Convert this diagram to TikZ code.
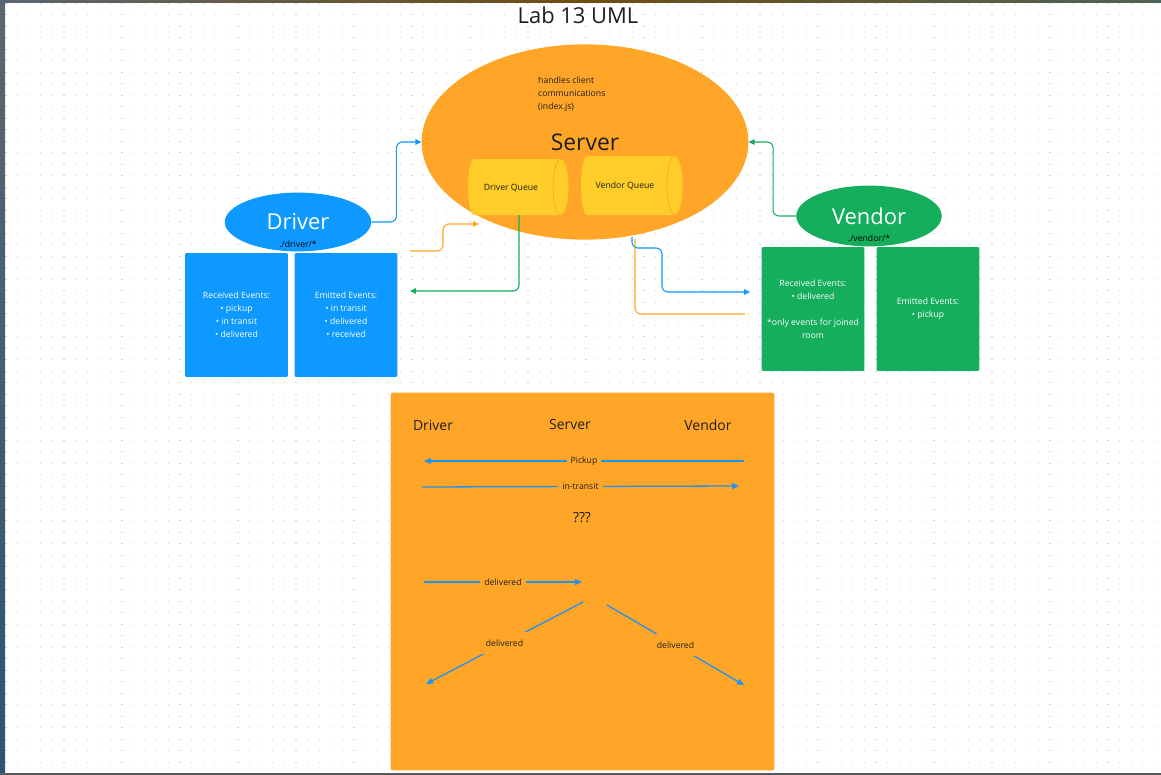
\documentclass[tikz,border=0pt]{standalone}
\usepackage{fontspec}
\setmainfont{Open Sans}
\usetikzlibrary{arrows.meta,shapes.geometric}

\definecolor{figorange}{HTML}{FFA629}
\definecolor{figyellow}{HTML}{FFCD29}
\definecolor{figblue}{HTML}{0D99FF}
\definecolor{figgreen}{HTML}{14AE5C}
\definecolor{figink}{HTML}{1E1E1E}
\definecolor{figdot}{HTML}{D2D2D2}
\definecolor{flowblue}{HTML}{1E93F0}
\definecolor{edgetop}{HTML}{5C6670}
\definecolor{edgebot}{HTML}{2B5473}
\definecolor{edgebrown}{HTML}{6E4E12}
\definecolor{edgegreen}{HTML}{4E6458}

\begin{document}
\begin{tikzpicture}[x=1bp,y=-1bp,
  small/.style={font=\fontsize{8.7}{13}\selectfont},
  actor/.style={ellipse,inner sep=0,text=white,font=\fontsize{22}{26}\selectfont},
  evbox/.style={rectangle,rounded corners=1,inner sep=0,minimum width=103,minimum height=124,
    text=white,align=center,small},
  link/.style={line width=1.1,rounded corners=6,-{Triangle[length=6,width=5.5]}},
  flowarrow/.style={flowblue,line width=1.3,-{Triangle[length=7,width=6]}},
  flowlabel/.style={fill=figorange,inner xsep=4,inner ysep=1,text=figink,small},
  lifeline/.style={text=figink,font=\fontsize{14}{17}\selectfont}]
\useasboundingbox (0,0) rectangle (1161,775);
% canvas and dot grid
\fill[white] (0,0) rectangle (1161,775);
\foreach \row [evaluate=\row as \gy using 3.3+11.5*\row] in {0,...,67}
  \draw[figdot,line width=1.2,dash pattern=on 1.2bp off 10.4bp] (5.4,\gy) -- (1161,\gy);
% window edges
\shade[top color=edgetop,bottom color=edgebot] (0,0) rectangle (5,775);
\shade[left color=edgetop,right color=edgegreen,middle color=edgebrown] (0,0) rectangle (1161,3);
\fill[gray!70!black] (0,773) rectangle (1161,775);
% title
\node[text=figink,font=\fontsize{22}{26}\selectfont] (title) at (578,15) {Lab 13 UML};

% server with its queues
\node[ellipse,fill=figorange,inner sep=0,minimum width=328,minimum height=196,
  text=figink,font=\fontsize{23}{27}\selectfont] (server) at (585,142) {Server};
\node[anchor=north west,inner sep=0,align=left,text=figink,small] (srvnote) at (538,76.5)
  {handles client\\communications\\(index.js)};
\fill[figyellow] (474,159) -- (561,159) arc[start angle=-90,end angle=90,x radius=8,y radius=28]
  -- (474,215) arc[start angle=90,end angle=270,x radius=6,y radius=28] -- cycle;
\draw[figorange,line width=0.8] (561,187) ellipse[x radius=8,y radius=28];
\node[text=figink,small] (dq) at (511,188) {Driver Queue};
\fill[figyellow] (587,156) -- (675,156) arc[start angle=-90,end angle=90,x radius=8,y radius=29.5]
  -- (587,215) arc[start angle=90,end angle=270,x radius=6,y radius=29.5] -- cycle;
\draw[figorange,line width=0.8] (675,185.5) ellipse[x radius=8,y radius=29.5];
\node[text=figink,small] (vq) at (625,186) {Vendor Queue};

% driver client
\node[actor,fill=figblue,minimum width=147,minimum height=59] (driver) at (298,222) {Driver};
\node[small,text=black] (drvpath) at (298,244) {./driver/*};
\node[evbox,fill=figblue] (drvrecv) at (236.5,315)
  {Received Events:\\\textbullet\ pickup\\\textbullet\ in transit\\\textbullet\ delivered};
\node[evbox,fill=figblue] (drvemit) at (346,315)
  {Emitted Events:\\\textbullet\ in transit\\\textbullet\ delivered\\\textbullet\ received};

% vendor client
\node[actor,fill=figgreen,minimum width=146,minimum height=61] (vendor) at (869,216) {Vendor};
\node[small,text=black] (vndpath) at (869,238) {./vendor/*};
\node[evbox,fill=figgreen] (vndrecv) at (813,309)
  {Received Events:\\\textbullet\ delivered\\[13pt]*only events for joined\\room};
\node[evbox,fill=figgreen] (vndemit) at (928,309)
  {Emitted Events:\\\textbullet\ pickup};

% connectors
\coordinate (dqfoot) at (519,215);
\coordinate (drvin) at (410,291);
\coordinate (drvout) at (410,251);
\coordinate (dqin) at (479,224);
\coordinate (srvfoot) at (632,237);
\coordinate (srvfoot2) at (635,239);
\coordinate (vndin) at (750,292);
\coordinate (vndout) at (745,314);
\draw[link,figblue] (driver.east) -- ++(25,0) |- (server.west);
\draw[link,figgreen] (vendor.west) -- ++(-23,0) |- (server.east);
\draw[link,figgreen] (dqfoot) |- (drvin);
\draw[link,figorange] (drvout) -- ++(33,0) |- (dqin);
\draw[line width=1.1,rounded corners=6,figorange] (srvfoot2) |- (vndout);
\draw[link,figblue] (srvfoot) -- ++(0,11) -- ++(30,0) |- (vndin);

% event flow panel
\node[rectangle,fill=figorange,rounded corners=2,minimum width=385,minimum height=379] (flow) at (582.5,581.5) {};
\node[lifeline] (hdrv) at (433,425) {Driver};
\node[lifeline] (hsrv) at (570,425) {Server};
\node[lifeline] (hvnd) at (708,425) {Vendor};
\node[lifeline] (open) at (582,518) {???};
\coordinate (pkA) at (744,461);
\coordinate (pkB) at (424,461);
\coordinate (itA) at (422,487);
\coordinate (itB) at (739,486);
\coordinate (dlA) at (424,582);
\coordinate (dlB) at (582,582);
\coordinate (dlC) at (583,602);
\coordinate (dlD) at (426,684);
\coordinate (dlE) at (607,605);
\coordinate (dlF) at (744,685);
\draw[flowarrow] (pkA) -- node[flowlabel] (pklbl) {Pickup} (pkB);
\draw[flowarrow] (itA) -- node[flowlabel] (itlbl) {in-transit} (itB);
\draw[flowarrow] (dlA) -- node[flowlabel] (dllbl) {delivered} (dlB);
\draw[flowarrow] (dlC) -- node[flowlabel,inner ysep=8] (dllblL) {delivered} (dlD);
\draw[flowarrow] (dlE) -- node[flowlabel,inner ysep=8] (dllblR) {delivered} (dlF);
\end{tikzpicture}
\end{document}
